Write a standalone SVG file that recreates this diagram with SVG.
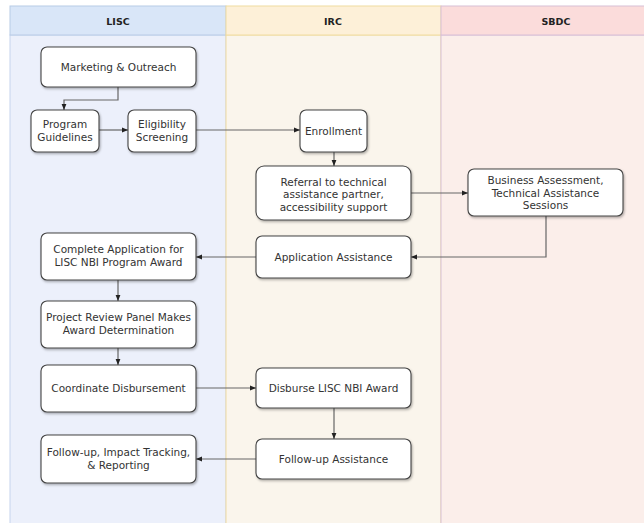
<svg xmlns="http://www.w3.org/2000/svg" width="644" height="523" viewBox="0 0 644 523">
<defs>
<filter id="sh" x="-10%" y="-10%" width="130%" height="140%">
<feDropShadow dx="1" dy="1.5" stdDeviation="0.8" flood-color="#000" flood-opacity="0.3"/>
</filter>
<marker id="ah" viewBox="0 0 10 10" refX="10" refY="5" markerWidth="6" markerHeight="6" markerUnits="userSpaceOnUse" orient="auto">
<path d="M0,1 L10,5 L0,9 Z" fill="#222"/>
</marker>
<style>
.node rect{fill:#fff;stroke:#444;stroke-width:1.1;filter:url(#sh)}
.node text{font-family:"DejaVu Sans",Verdana,sans-serif;font-size:10.5px;fill:#333;text-anchor:middle}
.hdr{font-family:"DejaVu Sans",Verdana,sans-serif;font-size:9.5px;font-weight:bold;fill:#222;text-anchor:middle}
.edge{fill:none;stroke:#666;stroke-width:1.2;marker-end:url(#ah)}
</style>
</defs>
<rect width="644" height="523" fill="#fff"/>
<g id="lanes">
<g id="lane-lisc">
<rect x="10" y="35" width="216" height="490" fill="#ecf0fb" stroke="#c5d3ee" stroke-width="1"/>
<rect x="10" y="6" width="216" height="29" fill="#d9e6f8" stroke="#b8cbe6" stroke-width="1"/>
<text class="hdr" x="118" y="24.5">LISC</text>
</g>
<g id="lane-irc">
<rect x="226" y="35" width="215" height="490" fill="#faf5ec" stroke="#f0dca0" stroke-width="1"/>
<rect x="226" y="6" width="215" height="29" fill="#fdf0d8" stroke="#f0dca0" stroke-width="1"/>
<text class="hdr" x="333" y="24.5">IRC</text>
</g>
<g id="lane-sbdc">
<rect x="441" y="35" width="230" height="490" fill="#fbeeea" stroke="#d7bfd6" stroke-width="1"/>
<rect x="441" y="6" width="230" height="29" fill="#fbdcdb" stroke="#d7bfd6" stroke-width="1"/>
<text class="hdr" x="556" y="24.5">SBDC</text>
</g>
</g>
<g id="connectors">
<path class="edge" d="M118,87 V100 H64 V110"/>
<path class="edge" d="M99,130 H128"/>
<path class="edge" d="M196,130 H300"/>
<path class="edge" d="M334,152 V166"/>
<path class="edge" d="M411,193 H468"/>
<path class="edge" d="M546,216 V257 H411"/>
<path class="edge" d="M256,257 H196"/>
<path class="edge" d="M118,280 V301"/>
<path class="edge" d="M118,348 V365"/>
<path class="edge" d="M196,388 H256"/>
<path class="edge" d="M334,408 V439"/>
<path class="edge" d="M256,459 H196"/>
</g>
<g id="n-marketing" class="node"><rect x="41" y="47" width="155" height="40" rx="6"/><text x="118.5" y="70.5">Marketing &amp; Outreach</text></g>
<g id="n-guidelines" class="node"><rect x="31" y="110" width="68" height="42" rx="6"/><text x="65" y="128">Program</text><text x="65" y="140.5">Guidelines</text></g>
<g id="n-eligibility" class="node"><rect x="128" y="110" width="68" height="42" rx="6"/><text x="162" y="128">Eligibility</text><text x="162" y="140.5">Screening</text></g>
<g id="n-enrollment" class="node"><rect x="300" y="110" width="67" height="42" rx="6"/><text x="333.5" y="134.5">Enrollment</text></g>
<g id="n-referral" class="node"><rect x="256" y="166" width="155" height="54" rx="8"/><text x="333.5" y="185.5">Referral to technical</text><text x="333.5" y="198">assistance partner,</text><text x="333.5" y="210.5">accessibility support</text></g>
<g id="n-business" class="node"><rect x="468" y="169" width="155" height="47" rx="6"/><text x="545.5" y="184">Business Assessment,</text><text x="545.5" y="196.5">Technical Assistance</text><text x="545.5" y="209">Sessions</text></g>
<g id="n-appassist" class="node"><rect x="256" y="236" width="155" height="42" rx="6"/><text x="333.5" y="260.5">Application Assistance</text></g>
<g id="n-complete" class="node"><rect x="41" y="233" width="155" height="47" rx="6"/><text x="118.5" y="253">Complete Application for</text><text x="118.5" y="265.5">LISC NBI Program Award</text></g>
<g id="n-review" class="node"><rect x="41" y="301" width="155" height="47" rx="6"/><text x="118.5" y="321">Project Review Panel Makes</text><text x="118.5" y="333.5">Award Determination</text></g>
<g id="n-coordinate" class="node"><rect x="41" y="365" width="155" height="47" rx="6"/><text x="118.5" y="392">Coordinate Disbursement</text></g>
<g id="n-disburse" class="node"><rect x="256" y="368" width="155" height="40" rx="6"/><text x="333.5" y="392">Disburse LISC NBI Award</text></g>
<g id="n-followassist" class="node"><rect x="256" y="439" width="155" height="40" rx="6"/><text x="333.5" y="463">Follow-up Assistance</text></g>
<g id="n-followup" class="node"><rect x="41" y="435" width="155" height="48" rx="6"/><text x="118.5" y="456">Follow-up, Impact Tracking,</text><text x="118.5" y="468.5">&amp; Reporting</text></g>
</svg>
